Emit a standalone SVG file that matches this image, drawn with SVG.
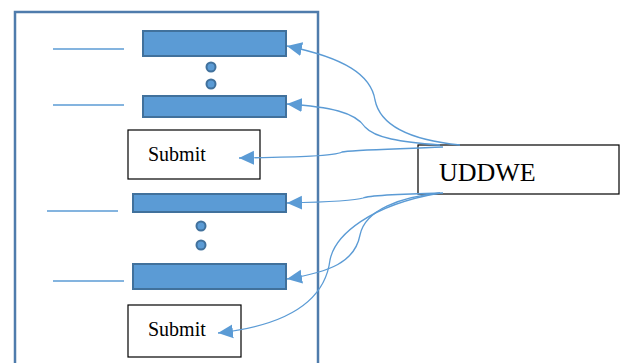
<svg xmlns="http://www.w3.org/2000/svg" width="620" height="363" viewBox="0 0 620 363">
<style>
.frame{fill:#fff;stroke:#4f7cac;stroke-width:2.5}
.bar{fill:#5b9bd5;stroke:#41719c;stroke-width:2}
.dot{fill:#5b9bd5;stroke:#41719c;stroke-width:2}
.blank{stroke:#5b9bd5;stroke-width:1.3}
.box{fill:#fff;stroke:#000;stroke-width:1.2}
.t{font-family:"Liberation Serif","Times New Roman",serif;fill:#000}
.con{fill:none;stroke:#5b9bd5;stroke-width:1.3}
</style>
<defs>
<marker id="ah" markerUnits="userSpaceOnUse" markerWidth="15" markerHeight="15" refX="15" refY="7" orient="auto" viewBox="0 0 15 14">
<path d="M0,0 L15,7 L0,14 z" fill="#5b9bd5"/>
</marker>
</defs>
<rect width="620" height="363" fill="#fff"/>
<g id="form">
<rect class="frame" x="15" y="12" width="303" height="360"/>
</g>
<g id="field1">
<line class="blank" x1="53" y1="49" x2="124" y2="49"/>
<rect class="bar" x="143" y="31" width="143" height="25"/>
</g>
<g id="dots1">
<circle class="dot" cx="211" cy="67" r="4.5"/>
<circle class="dot" cx="211" cy="84" r="4.5"/>
</g>
<g id="field2">
<line class="blank" x1="53" y1="105" x2="124" y2="105"/>
<rect class="bar" x="143" y="96" width="143" height="21"/>
</g>
<g id="submit1">
<rect class="box" x="128" y="130" width="132" height="49"/>
<text class="t" x="148" y="161" font-size="20">Submit</text>
</g>
<g id="field3">
<line class="blank" x1="47" y1="211" x2="118" y2="211"/>
<rect class="bar" x="133" y="194" width="153" height="18"/>
</g>
<g id="dots2">
<circle class="dot" cx="201" cy="226" r="4.5"/>
<circle class="dot" cx="201" cy="245" r="4.5"/>
</g>
<g id="field4">
<line class="blank" x1="53" y1="281" x2="124" y2="281"/>
<rect class="bar" x="133" y="264" width="153" height="25"/>
</g>
<g id="submit2">
<rect class="box" x="128" y="305" width="113" height="52"/>
<text class="t" x="148" y="336" font-size="20">Submit</text>
</g>
<g id="uddwe">
<rect class="box" x="418" y="145" width="201" height="49"/>
<text class="t" x="439" y="181" font-size="26">UDDWE</text>
</g>
<g id="connectors">
<path class="con" marker-end="url(#ah)" d="M460,145 C410,140 380,125 375,100 C371,75 345,58 287,46"/>
<path class="con" marker-end="url(#ah)" d="M440,145 C400,142 375,138 365,127 C355,112 330,107 287,104"/>
<path class="con" marker-end="url(#ah)" d="M443,147 C400,149 350,150 342,152 C335,156 300,157 239,158"/>
<path class="con" marker-end="url(#ah)" d="M443,193 C400,194 370,195 363,198 C355,201 330,202 287,203"/>
<path class="con" marker-end="url(#ah)" d="M440,193 C400,197 365,210 360,235 C355,262 330,272 287,279"/>
<path class="con" marker-end="url(#ah)" d="M440,193 C370,205 335,235 330,260 C325,300 290,325 218,333"/>
</g>
</svg>
